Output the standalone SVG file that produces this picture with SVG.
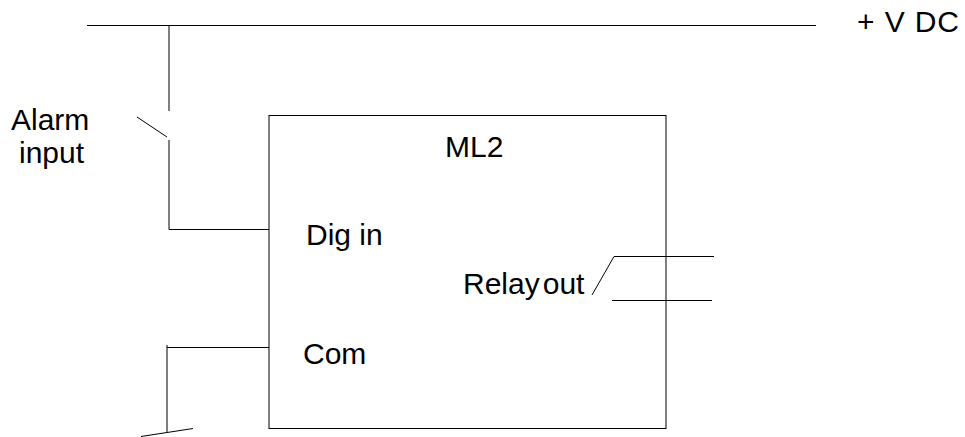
<svg xmlns="http://www.w3.org/2000/svg" width="965" height="437" viewBox="0 0 965 437">
<style>
.w{stroke:#000;stroke-width:1;fill:none}
.t{font-family:"Liberation Sans",Arial,sans-serif;font-size:30px;fill:#000}
</style>
<rect width="965" height="437" fill="#fff"/>
<g id="connectors">
<line class="w" x1="87" y1="25.5" x2="816" y2="25.5"/>
<line class="w" x1="169" y1="25" x2="169" y2="111"/>
<line class="w" x1="137" y1="117" x2="167" y2="137"/>
<line class="w" x1="169" y1="140" x2="169" y2="229.5"/>
<line class="w" x1="169" y1="229.5" x2="269" y2="229.5"/>
<line class="w" x1="167" y1="347.5" x2="269" y2="347.5"/>
<line class="w" x1="167" y1="345" x2="167" y2="432"/>
<line class="w" x1="141" y1="436.5" x2="193" y2="428.5"/>
<line class="w" x1="592" y1="295" x2="614" y2="256.5"/>
<line class="w" x1="614" y1="256.5" x2="714" y2="256.5"/>
<line class="w" x1="612" y1="300.5" x2="712" y2="300.5"/>
</g>
<g id="vdc">
<text class="t" x="857" y="32" textLength="102" lengthAdjust="spacing">+ V DC</text>
</g>
<g id="alarm">
<text class="t" x="11" y="130">Alarm</text>
<text class="t" x="19" y="163">input</text>
</g>
<g id="ml2">
<rect class="w" x="269" y="115.5" width="397" height="313"/>
<text class="t" x="445" y="157">ML2</text>
<text class="t" x="306" y="245">Dig in</text>
<text class="t" x="463" y="294">Relay<tspan dx="3">out</tspan></text>
<text class="t" x="303" y="364">Com</text>
</g>
</svg>
